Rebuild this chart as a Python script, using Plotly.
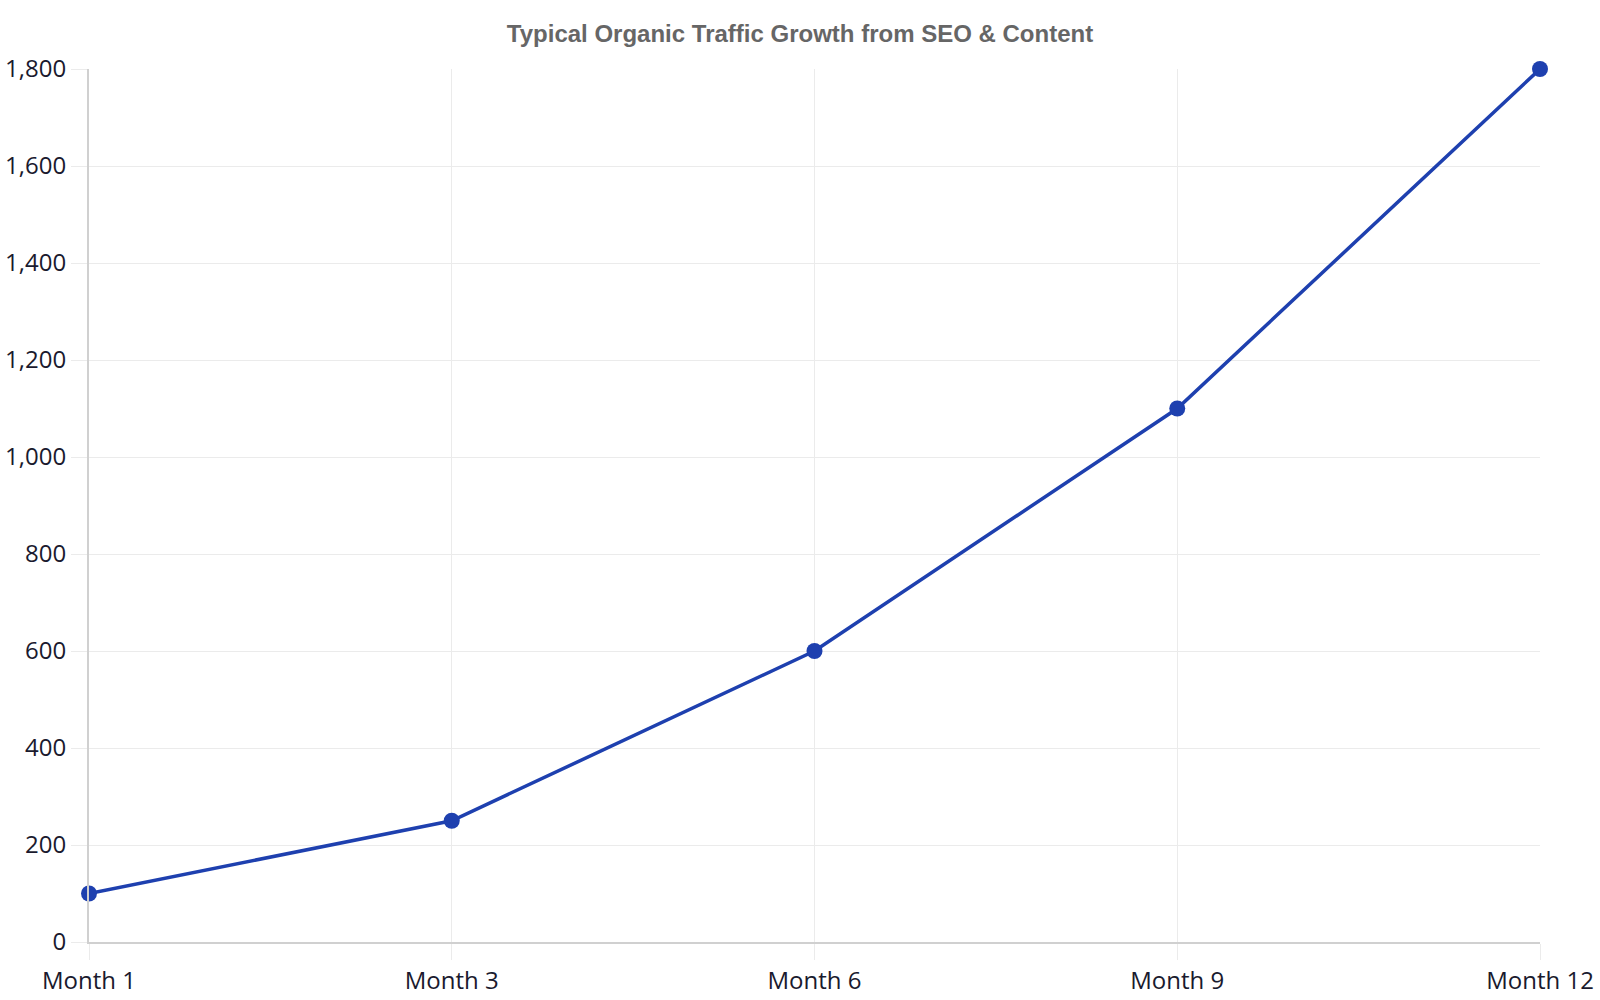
import plotly.graph_objects as go

months = ["Month 1", "Month 3", "Month 6", "Month 9", "Month 12"]
traffic = [100, 250, 600, 1100, 1800]
y_ticks = [0, 200, 400, 600, 800, 1000, 1200, 1400, 1600, 1800]
y_ticktext = ["0", "200", "400", "600", "800", "1,000", "1,200", "1,400", "1,600", "1,800"]
title_text = "Typical Organic Traffic Growth from SEO & Content"

fig = go.Figure()
fig.add_trace(go.Scatter(
    x=months, y=traffic, mode="lines+markers",
    line=dict(color="#1e40af", width=3.5),
    marker=dict(color="#1e40af", size=16),
    cliponaxis=False,
    showlegend=False,
))

fig.update_layout(
    width=1600, height=1000,
    paper_bgcolor="white", plot_bgcolor="white",
    margin=dict(l=89, r=60, t=69, b=58, autoexpand=False),
    title=dict(text="<b>" + title_text + "</b>", x=0.5, xanchor="center", y=0.966, yanchor="middle",
               font=dict(family="Liberation Sans, Arial", size=24, color="#666666")),
    font=dict(family="Open Sans", color="#1a1a2e", size=24),
)
fig.update_xaxes(
    range=[0, 4], type="category", automargin=False,
    showgrid=True, gridcolor="#ebebeb", gridwidth=1,
    showline=True, linecolor="#d0d0d0", linewidth=2,
    ticks="outside", ticklen=16, tickcolor="#ebebeb", tickwidth=1,
    tickfont=dict(family="Open Sans", size=24, color="#1a1a2e"),
    zeroline=False,
)
fig.update_yaxes(
    range=[0, 1800], tickvals=y_ticks, ticktext=y_ticktext, automargin=False,
    showgrid=True, gridcolor="#ebebeb", gridwidth=1,
    showline=True, linecolor="#d0d0d0", linewidth=2,
    ticks="outside", ticklen=16, tickcolor="#ebebeb", tickwidth=1,
    tickfont=dict(family="Open Sans", size=24, color="#1a1a2e"),
    zeroline=False,
)

fig.write_html(
    "out.html",
    config={"displayModeBar": False},
    post_script="document.body.style.margin='0';document.body.style.overflow='hidden';",
)
